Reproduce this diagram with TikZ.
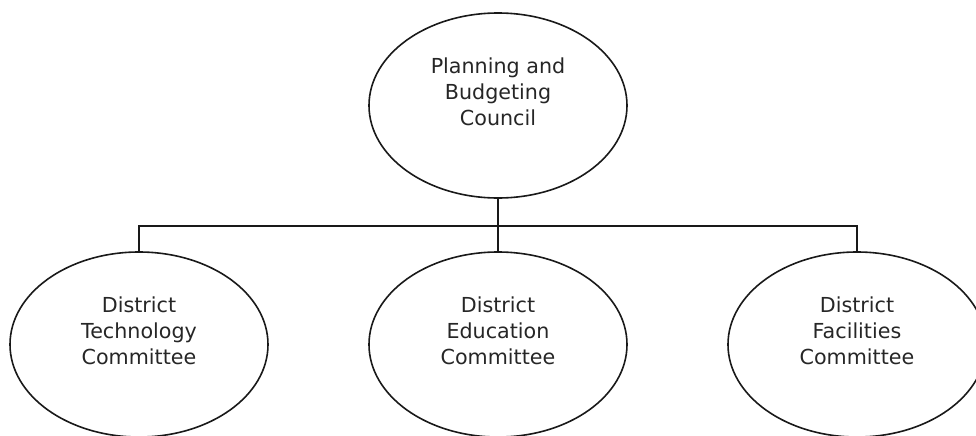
\documentclass[tikz,border=0pt]{standalone}
\usepackage{fontspec}
\setmainfont{DejaVu Sans}
\usetikzlibrary{shapes.geometric}
\begin{document}
\begin{tikzpicture}[x=0.75pt,y=-0.75pt,
  oval/.style={ellipse,draw=black!90,line width=1.2pt,minimum width=193.5pt,minimum height=138.75pt,inner sep=0pt,outer sep=0pt},
  lbl/.style={align=center,text=black!85,font=\fontsize{15.5pt}{19.5pt}\selectfont,inner sep=0pt},
  link/.style={draw=black!90,line width=1.2pt}]
\useasboundingbox (0,0) rectangle (976,436);
\node[oval] (pbc) at (498,105.5) {};
\node[oval] (tech) at (139,344.5) {};
\node[oval] (edu) at (498,344.5) {};
\node[oval] (fac) at (857,344.5) {};
\node[lbl] (tpbc) at (498,92) {Planning and\\Budgeting\\Council};
\node[lbl] (ttech) at (139,331) {District\\Technology\\Committee};
\node[lbl] (tedu) at (498,331) {District\\Education\\Committee};
\node[lbl] (tfac) at (857,331) {District\\Facilities\\Committee};
\coordinate (j) at (498,226);
\draw[link] (pbc.south) -- (j);
\draw[link] (edu.north) -- (j);
\draw[link] (tech.north) -- (tech.north |- j) -- (fac.north |- j) -- (fac.north);
\end{tikzpicture}
\end{document}
